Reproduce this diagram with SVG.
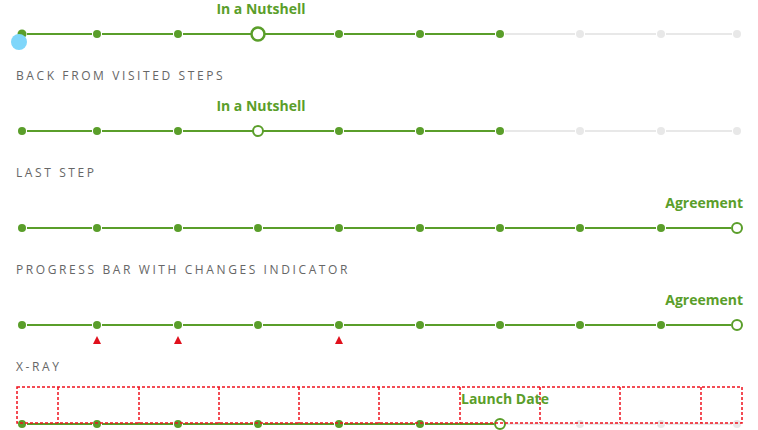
<svg xmlns="http://www.w3.org/2000/svg" width="758" height="430" viewBox="0 0 758 430">
<style>
.g{stroke:#5a9e2a;stroke-width:2}
.e{stroke:#e8e8e8;stroke-width:2}
.d{fill:#5a9e2a}
.dg{fill:#e8e8e8}
.o{fill:#fff;stroke:#5a9e2a;stroke-width:2}
.t{font-family:"Open Sans","Liberation Sans",sans-serif;font-size:12px;fill:#666;letter-spacing:2.6px}
.l{font-family:"Open Sans","Liberation Sans",sans-serif;font-size:14px;font-weight:bold;fill:#5a9e2a}
.x{fill:none;stroke:#f0121e;stroke-width:1.5;stroke-dasharray:3 2}
.r{fill:#e0101c}
</style>
<g id="connectors">
<path class="g" d="M27 34H92M102 34H173M183 34H251M265 34H334M344 34H415M425 34H495"/>
<path class="e" d="M505 34H575M585 34H656M666 34H732"/>
<path class="g" d="M27 131H92M102 131H173M183 131H253M263 131H334M344 131H415M425 131H495"/>
<path class="e" d="M505 131H575M585 131H656M666 131H732"/>
<path class="g" d="M27 228H92M102 228H173M183 228H253M263 228H334M344 228H415M425 228H495M505 228H575M585 228H656M666 228H731"/>
<path class="g" d="M27 325H92M102 325H173M183 325H253M263 325H334M344 325H415M425 325H495M505 325H575M585 325H656M666 325H731"/>
<path class="g" d="M27 424H92M102 424H173M183 424H253M263 424H334M344 424H415M425 424H494"/>
<path class="e" d="M506 424H575M585 424H656M666 424H732"/>
</g>
<g id="row1">
<circle class="d" cx="22" cy="34" r="4.5"/><circle class="d" cx="97" cy="34" r="4"/><circle class="d" cx="178" cy="34" r="4"/>
<circle class="o" cx="258" cy="34" r="6.5" style="stroke-width:2.5"/>
<circle class="d" cx="339" cy="34" r="4"/><circle class="d" cx="420" cy="34" r="4"/><circle class="d" cx="500" cy="34" r="4"/>
<circle class="dg" cx="580" cy="34" r="4"/><circle class="dg" cx="661" cy="34" r="4"/><circle class="dg" cx="737" cy="34" r="4"/>
<circle cx="19" cy="42" r="8" fill="#7fd6fa"/>
<text class="l" x="261" y="14" text-anchor="middle">In a Nutshell</text>
</g>
<text class="t" x="16" y="80">BACK FROM VISITED STEPS</text>
<g id="row2">
<circle class="d" cx="22" cy="131" r="4"/><circle class="d" cx="97" cy="131" r="4"/><circle class="d" cx="178" cy="131" r="4"/>
<circle class="o" cx="258" cy="131" r="5"/>
<circle class="d" cx="339" cy="131" r="4"/><circle class="d" cx="420" cy="131" r="4"/><circle class="d" cx="500" cy="131" r="4"/>
<circle class="dg" cx="580" cy="131" r="4"/><circle class="dg" cx="661" cy="131" r="4"/><circle class="dg" cx="737" cy="131" r="4"/>
<text class="l" x="261" y="111" text-anchor="middle">In a Nutshell</text>
</g>
<text class="t" x="16" y="177">LAST STEP</text>
<g id="row3">
<circle class="d" cx="22" cy="228" r="4"/><circle class="d" cx="97" cy="228" r="4"/><circle class="d" cx="178" cy="228" r="4"/><circle class="d" cx="258" cy="228" r="4"/>
<circle class="d" cx="339" cy="228" r="4"/><circle class="d" cx="420" cy="228" r="4"/><circle class="d" cx="500" cy="228" r="4"/>
<circle class="d" cx="580" cy="228" r="4"/><circle class="d" cx="661" cy="228" r="4"/><circle class="o" cx="737" cy="228" r="5"/>
<text class="l" x="743" y="208" text-anchor="end">Agreement</text>
</g>
<text class="t" x="16" y="274">PROGRESS BAR WITH CHANGES INDICATOR</text>
<g id="row4">
<circle class="d" cx="22" cy="325" r="4"/><circle class="d" cx="97" cy="325" r="4"/><circle class="d" cx="178" cy="325" r="4"/><circle class="d" cx="258" cy="325" r="4"/>
<circle class="d" cx="339" cy="325" r="4"/><circle class="d" cx="420" cy="325" r="4"/><circle class="d" cx="500" cy="325" r="4"/>
<circle class="d" cx="580" cy="325" r="4"/><circle class="d" cx="661" cy="325" r="4"/><circle class="o" cx="737" cy="325" r="5"/>
<path class="r" d="M97 336L101 344H93ZM178 336L182 344H174ZM339 336L343 344H335Z"/>
<text class="l" x="743" y="305" text-anchor="end">Agreement</text>
</g>
<text class="t" x="16" y="371">X-RAY</text>
<g id="row5">
<circle class="d" cx="22" cy="424" r="4"/><circle class="d" cx="97" cy="424" r="4"/><circle class="d" cx="178" cy="424" r="4"/><circle class="d" cx="258" cy="424" r="4"/>
<circle class="d" cx="339" cy="424" r="4"/><circle class="d" cx="420" cy="424" r="4"/>
<circle class="o" cx="500" cy="424" r="5"/>
<circle class="dg" cx="580" cy="424" r="4"/><circle class="dg" cx="661" cy="424" r="4"/><circle class="dg" cx="737" cy="424" r="4"/>
<path class="x" d="M17 387H742V423H17ZM58 387V423M139 387V423M219 387V423M299 387V423M379 387V423M460 387V423M540 387V423M620 387V423M701 387V423"/>
<text class="l" x="461" y="404">Launch Date</text>
</g>
</svg>
